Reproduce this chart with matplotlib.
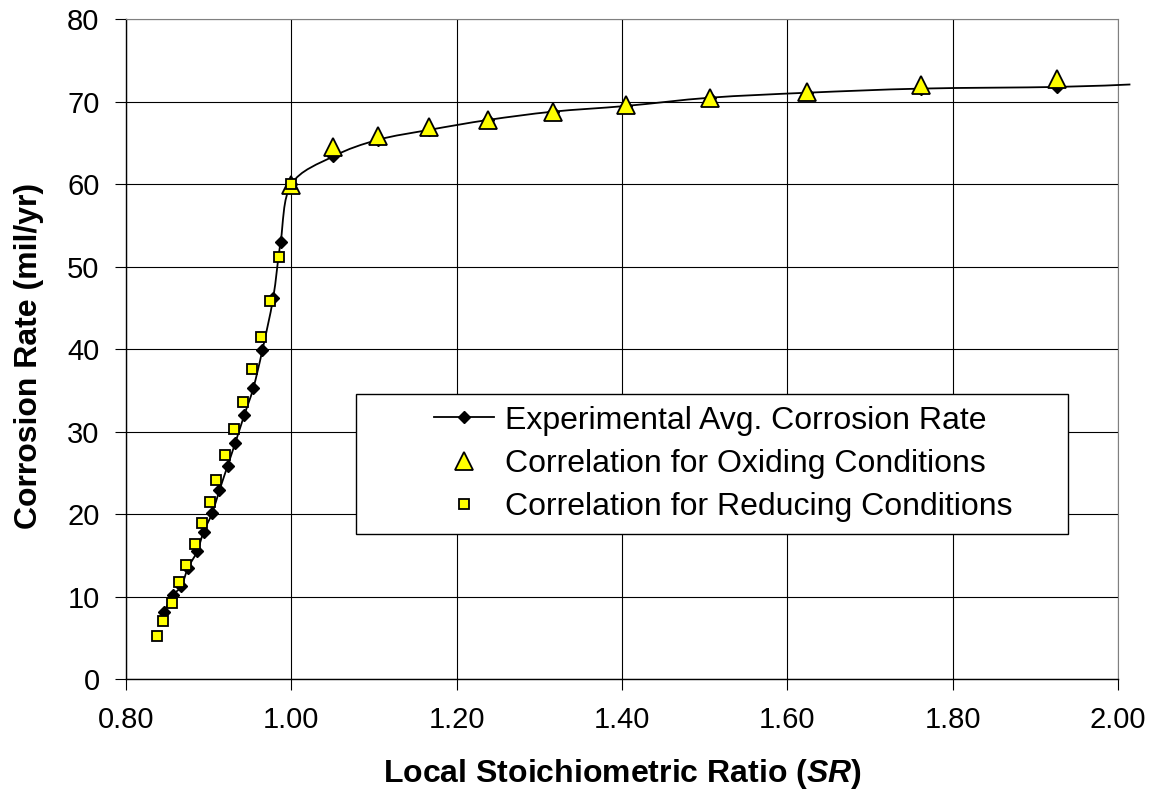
import numpy as np
import matplotlib
matplotlib.use("Agg")
import matplotlib.pyplot as plt
from matplotlib.path import Path
from matplotlib.patches import PathPatch, Rectangle
from matplotlib.lines import Line2D

plt.rcParams['font.family'] = ['Liberation Sans', 'DejaVu Sans']
plt.rcParams['mathtext.fontset'] = 'custom'
plt.rcParams['mathtext.it'] = 'Liberation Sans:italic:bold'
plt.rcParams['mathtext.rm'] = 'Liberation Sans:bold'

# experimental average corrosion rate
exp_sr = [0.846, 0.857, 0.867, 0.875, 0.886, 0.894, 0.904, 0.913, 0.923, 0.932, 0.943, 0.954,
          0.965, 0.978, 0.987, 1.000, 1.051, 1.105, 1.167, 1.238, 1.316, 1.405, 1.507, 1.624,
          1.762, 1.926, 2.015]
exp_rate = [8.2, 10.2, 11.3, 13.5, 15.5, 17.9, 20.1, 22.9, 25.9, 28.6, 32.0, 35.3,
            39.9, 46.2, 53.0, 60.0, 63.4, 65.4, 66.6, 67.8, 68.8, 69.5, 70.5, 71.1,
            71.6, 71.8, 72.1]

# correlation, oxidizing
ox_sr = [1.000, 1.051, 1.105, 1.167, 1.238, 1.316, 1.405, 1.507, 1.624, 1.762, 1.926]
ox_rate = [59.9, 64.5, 65.9, 66.9, 67.8, 68.8, 69.6, 70.4, 71.2, 72.0, 72.8]

# correlation, reducing
red_sr = [0.837, 0.845, 0.856, 0.864, 0.872, 0.883, 0.892, 0.902, 0.909, 0.920, 0.931,
          0.942, 0.953, 0.963, 0.974, 0.985, 0.999]
red_rate = [5.25, 7.1, 9.3, 11.8, 13.9, 16.4, 18.9, 21.5, 24.2, 27.2, 30.3,
            33.6, 37.6, 41.5, 45.8, 51.2, 60.0]

x_ticks = [0.8, 1.0, 1.2, 1.4, 1.6, 1.8, 2.0]
y_ticks = [0, 10, 20, 30, 40, 50, 60, 70, 80]

W, H = 1149, 806
fig = plt.figure(figsize=(W / 100, H / 100), dpi=100)
ax = fig.add_axes([126 / W, 1 - 679.3 / H, (1118 - 126) / W, (679.3 - 19.3) / H])

# smoothed line (catmull-rom style bezier like the spreadsheet "smoothed line")
pts = np.column_stack([exp_sr, exp_rate])
ext = np.vstack([pts[0], pts, pts[-1]])
verts = [pts[0]]
codes = [Path.MOVETO]
for i in range(len(pts) - 1):
    p0, p1, p2, p3 = ext[i], ext[i + 1], ext[i + 2], ext[i + 3]
    verts += [p1 + (p2 - p0) / 6, p2 - (p3 - p1) / 6, p2]
    codes += [Path.CURVE4] * 3
ax.add_patch(PathPatch(Path(verts, codes), fill=False, edgecolor='black', lw=1.3,
                       zorder=3, clip_on=False))
ax.plot(exp_sr, exp_rate, ls='none', marker='D', ms=6.5, color='black', zorder=3)

ax.plot(ox_sr, ox_rate, ls='none', marker='^', ms=13.5, mfc='#FFFF00', mec='black',
        mew=1.3, zorder=4)
ax.plot(red_sr, red_rate, ls='none', marker='s', ms=7.5, mfc='#FFFF00', mec='black',
        mew=1.3, zorder=5)

ax.set_xlim(0.8, 2.0)
ax.set_ylim(0, 80)
ax.set_xticks(x_ticks)
ax.set_xticklabels(['%.2f' % v for v in x_ticks])
ax.set_yticks(y_ticks)
ax.grid(True, color='black', lw=0.8)
ax.set_axisbelow(True)
ax.tick_params(direction='out', length=8, width=0.8, labelsize=21, pad=11)
for s in ['top', 'right']:
    ax.spines[s].set_color('#808080')
for s in ['left', 'bottom']:
    ax.spines[s].set_color('black')
    ax.spines[s].set_linewidth(1.0)

ax.set_ylabel('Corrosion Rate (mil/yr)', fontsize=23, fontweight='bold')
ax.yaxis.set_label_coords(-0.083, 0.49)
ax.set_xlabel('Local Stoichiometric Ratio ($SR$)', fontsize=23, fontweight='bold')
ax.xaxis.set_label_coords(0.5, -0.118)

# legend box
bx0, by0, bx1, by1 = 356 / W, 1 - 534 / H, 1068 / W, 1 - 394 / H
ax.add_patch(Rectangle((bx0, by0), bx1 - bx0, by1 - by0, transform=fig.transFigure,
                       facecolor='white', edgecolor='black', lw=1.0, zorder=6,
                       clip_on=False))
handles = [
    Line2D([], [], color='black', lw=1.3, marker='D', ms=6.5),
    Line2D([], [], ls='none', marker='^', ms=12.5, mfc='#FFFF00', mec='black', mew=1.3),
    Line2D([], [], ls='none', marker='s', ms=7, mfc='#FFFF00', mec='black', mew=1.3),
]
labels = ['Experimental Avg. Corrosion Rate',
          'Correlation for Oxiding Conditions',
          'Correlation for Reducing Conditions']
leg = ax.legend(handles, labels, loc='center left', bbox_to_anchor=(434 / W, 1 - 464 / H),
                bbox_transform=fig.transFigure, frameon=False, fontsize=23,
                borderpad=0, borderaxespad=0,
                handlelength=1.87, handletextpad=0.34, labelspacing=0.42)
leg.set_zorder(7)

fig.savefig('out.png', dpi=100)
